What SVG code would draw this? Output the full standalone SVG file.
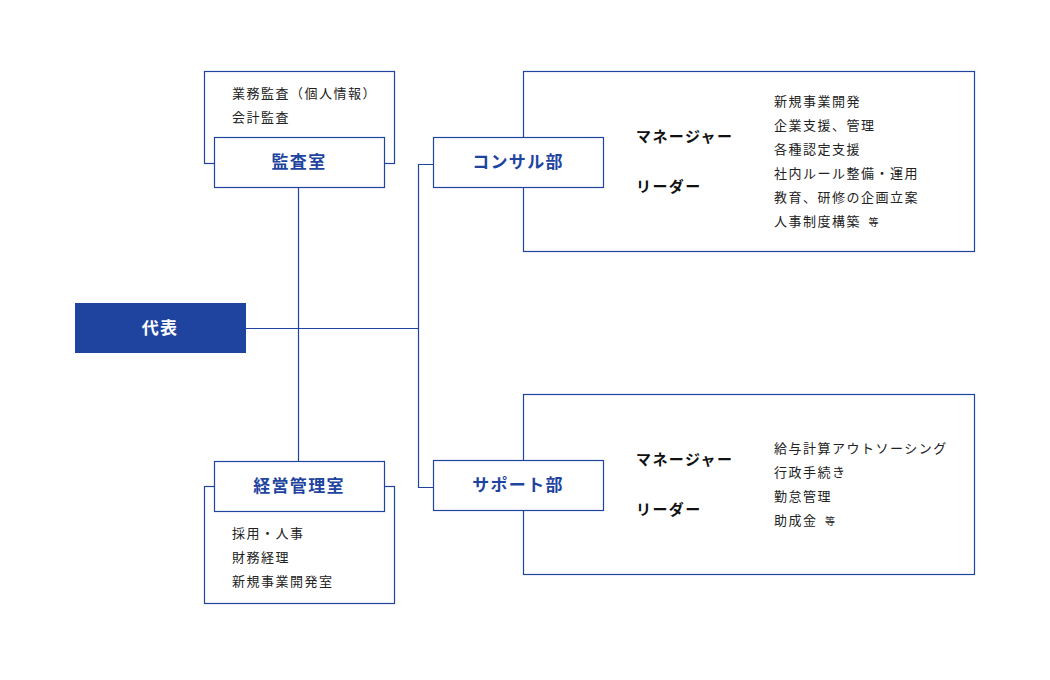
<svg xmlns="http://www.w3.org/2000/svg" width="1050" height="680" viewBox="0 0 1050 680">
<style>
.ln{fill:none;stroke:#1e44a0;stroke-width:1.2}
.box{fill:#fff;stroke:#1e44a0;stroke-width:1.2}
.title{font-family:"Noto Sans CJK JP",sans-serif;font-size:17px;font-weight:bold;fill:#1e44a0;text-anchor:middle;letter-spacing:1.3px}
.item{font-family:"Noto Sans CJK JP",sans-serif;font-size:13px;fill:#222;letter-spacing:1.5px}
.role{font-family:"Noto Sans CJK JP",sans-serif;font-size:15px;font-weight:bold;fill:#111;letter-spacing:1.4px}
.sm{font-size:10px}
</style>
<rect width="1050" height="680" fill="#fff"/>
<g id="connectors">
<line class="ln" x1="298.5" y1="187" x2="298.5" y2="461"/>
<line class="ln" x1="246" y1="328.5" x2="418.5" y2="328.5"/>
<polyline class="ln" points="433,164.5 418.5,164.5 418.5,487.5 433,487.5"/>
</g>
<g id="daihyo">
<rect x="75" y="303" width="171" height="50" fill="#1e44a0"/>
<text x="160" y="334" class="title" style="fill:#fff">代表</text>
</g>
<g id="kansa">
<rect class="box" x="204.5" y="71.5" width="190" height="92"/>
<text x="232" y="98" class="item">業務監査（個人情報）</text>
<text x="232" y="122" class="item">会計監査</text>
<rect class="box" x="214.5" y="137.5" width="170" height="50"/>
<text x="299" y="168" class="title">監査室</text>
</g>
<g id="keiei">
<rect class="box" x="204.5" y="486.5" width="190" height="117"/>
<text x="232" y="538" class="item">採用・人事</text>
<text x="232" y="562" class="item">財務経理</text>
<text x="232" y="586" class="item">新規事業開発室</text>
<rect class="box" x="214.5" y="461.5" width="170" height="50"/>
<text x="299" y="492" class="title">経営管理室</text>
</g>
<g id="consul">
<rect class="box" x="523.5" y="71.5" width="451" height="180"/>
<rect class="box" x="433.5" y="137.5" width="170" height="50"/>
<text x="518" y="168" class="title">コンサル部</text>
<text x="636" y="142" class="role">マネージャー</text>
<text x="636" y="192" class="role">リーダー</text>
<text x="774" y="106" class="item">新規事業開発</text>
<text x="774" y="130" class="item">企業支援、管理</text>
<text x="774" y="154" class="item">各種認定支援</text>
<text x="774" y="178" class="item">社内ルール整備・運用</text>
<text x="774" y="202" class="item">教育、研修の企画立案</text>
<text x="774" y="226" class="item">人事制度構築 <tspan class="sm" dx="3">等</tspan></text>
</g>
<g id="support">
<rect class="box" x="523.5" y="394.5" width="451" height="180"/>
<rect class="box" x="433.5" y="460.5" width="170" height="50"/>
<text x="518" y="491" class="title">サポート部</text>
<text x="636" y="465" class="role">マネージャー</text>
<text x="636" y="515" class="role">リーダー</text>
<text x="774" y="453" class="item">給与計算アウトソーシング</text>
<text x="774" y="477" class="item">行政手続き</text>
<text x="774" y="501" class="item">勤怠管理</text>
<text x="774" y="525" class="item">助成金 <tspan class="sm" dx="3">等</tspan></text>
</g>
</svg>
